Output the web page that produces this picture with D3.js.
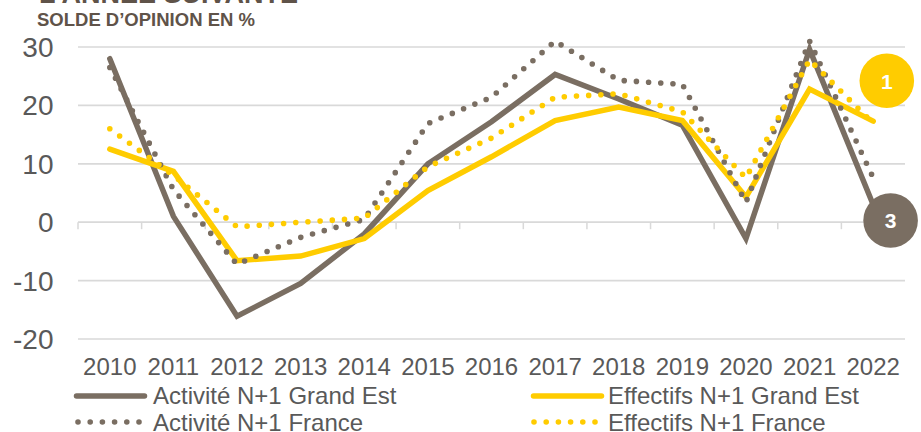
<!DOCTYPE html>
<html><head><meta charset="utf-8">
<script src="https://cdn.jsdelivr.net/npm/d3@7"></script>
<style>html,body{margin:0;padding:0;background:#fff}svg{display:block}text{font-family:"Liberation Sans",Arial,sans-serif}</style>
</head><body><div id="c"></div>
<script>
const years=["2010","2011","2012","2013","2014","2015","2016","2017","2018","2019","2020","2021","2022"];
const yTicks=[-20,-10,0,10,20,30];
const activiteGE=[28,1,-16.1,-10.5,-2,10,17.2,25.3,21.1,16.6,-2.8,29.6,3];
const effectifsGE=[12.5,8.7,-6.6,-5.8,-2.8,5.4,11.2,17.4,19.7,17.4,4.3,22.8,17.3];
const activiteFR=[26.5,5.6,-7.2,-2.6,0.5,16.9,21.4,31,24.3,23.6,3.4,31,7.6];
const effectifsFR=[16,8,-0.8,0,0.7,9.5,14.4,21.4,22,18.9,7.6,27.8,16.9];
const legendLabels=["Activité N+1 Grand Est","Effectifs N+1 Grand Est","Activité N+1 France","Effectifs N+1 France"];
const brown="#7a6e62",yellow="#ffcc00",txt="#595959",grid="#d9d9d9";

const svg=d3.select("#c").append("svg").attr("width",921).attr("height",432);
const x=d3.scaleBand().domain(years).range([78,905]);
const y=d3.scaleLinear().domain([-20,30]).range([339,47]);
const cx=d=>x(d)+x.bandwidth()/2;

svg.append("text").attr("x",39).attr("y",3).attr("font-size",27).attr("font-weight","bold").attr("fill","#5f5349").text("L’ANNÉE SUIVANTE");
svg.append("text").attr("x",37).attr("y",25.5).attr("font-size",18.5).attr("font-weight","bold").attr("fill","#5f5349").text("SOLDE D’OPINION EN %");

const g=svg.append("g");
g.selectAll("line.g").data(yTicks).join("line").attr("class","g")
 .attr("x1",78).attr("x2",905).attr("y1",d=>y(d)).attr("y2",d=>y(d)).attr("stroke",grid).attr("stroke-width",1.7);
g.selectAll("line.t").data(d3.range(years.length+1)).join("line").attr("class","t")
 .attr("x1",i=>78+i*x.step()).attr("x2",i=>78+i*x.step()).attr("y1",y(0)).attr("y2",y(0)+7).attr("stroke",grid).attr("stroke-width",1.5);
svg.selectAll("text.yl").data(yTicks).join("text").attr("class","yl")
 .attr("x",53.5).attr("y",d=>y(d)+10).attr("text-anchor","end").attr("font-size",28).attr("fill",txt).text(d=>d);
svg.selectAll("text.xl").data(years).join("text").attr("class","xl")
 .attr("x",cx).attr("y",374.5).attr("text-anchor","middle").attr("font-size",24).attr("fill",txt).text(d=>d);

const line=d3.line().x((d,i)=>cx(years[i])).y(d=>y(d));
function draw(v,c,dotted){
  const p=svg.append("path").datum(v).attr("d",line).attr("fill","none").attr("stroke",c)
   .attr("stroke-linecap","round").attr("stroke-linejoin",dotted?"round":"miter");
  if(dotted)p.attr("stroke-width",5.6).attr("stroke-dasharray","0 12.2");
  else p.attr("stroke-width",5.5);
}
draw(activiteGE,brown,false);
draw(effectifsGE,yellow,false);
draw(activiteFR,brown,true);
draw(effectifsFR,yellow,true);

const badge=(cxp,cyp,c,t,by)=>{
 svg.append("circle").attr("cx",cxp).attr("cy",cyp).attr("r",27.3).attr("fill",c);
 svg.append("text").attr("x",cxp).attr("y",by).attr("text-anchor","middle").attr("font-size",21).attr("font-weight","bold").attr("fill","#fff").text(t);
};
badge(886.8,80.8,yellow,"1",88.8);
badge(890.6,220.5,brown,"3",228.3);

const lg=[[74,147,396,brown,false,0,153],[531,604,396,yellow,false,1,608],[78,147,422,brown,true,2,153],[534,604,422,yellow,true,3,608]];
lg.forEach(([a,b,ly,c,dot,i,tx])=>{
 const l=svg.append("line").attr("x1",dot?a:a+2.5).attr("x2",dot?b-6:b-2.5).attr("y1",ly).attr("y2",ly).attr("stroke",c).attr("stroke-width",dot?5.6:5.5).attr("stroke-linecap","round");
 if(dot)l.attr("stroke-dasharray","0 12.2");
 svg.append("text").attr("x",tx).attr("y",i<2?404.2:430.5).attr("font-size",24).attr("fill",txt).text(legendLabels[i]);
});
</script></body></html>
